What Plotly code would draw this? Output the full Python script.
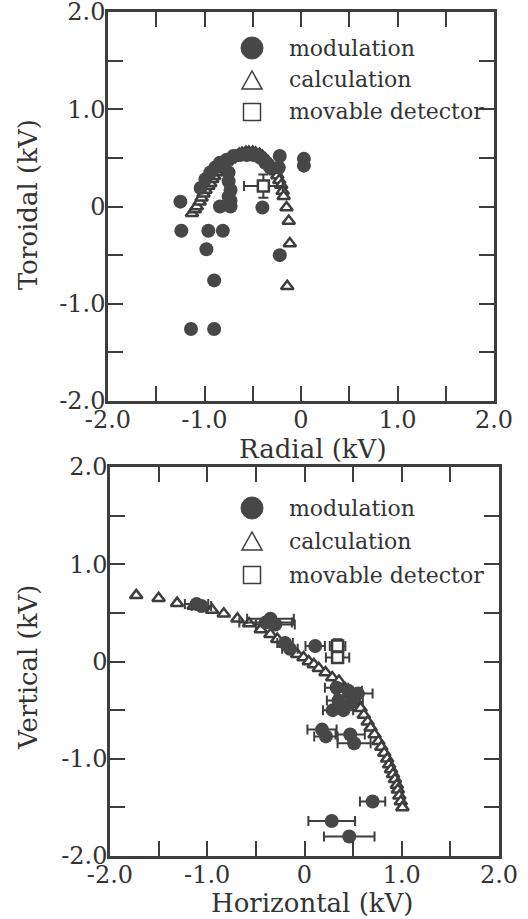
import plotly.graph_objects as go

# ---------------- data: top panel (Radial vs Toroidal) ----------------
mod_top_x = [-1.25, -1.24, -0.96, -0.81, -0.98, -0.90, -1.14, -0.90, -0.22,
             -0.22, -0.23, 0.03, 0.03, -0.40, -0.84, -0.73, -0.73,
             -1.04, -0.99, -0.94, -0.89, -0.84, -0.77, -0.70, -0.63, -0.56,
             -0.49, -0.42, -0.37, -0.32, -0.75, -0.75, -0.73, -0.75]
mod_top_y = [0.05, -0.25, -0.25, -0.25, -0.44, -0.76, -1.26, -1.26, -0.50,
             0.52, 0.40, 0.49, 0.42, -0.01, 0.00, 0.00, 0.06,
             0.19, 0.28, 0.35, 0.40, 0.45, 0.48, 0.52, 0.53, 0.53,
             0.53, 0.50, 0.45, 0.40, 0.35, 0.26, 0.17, 0.10]

calc_top_x = [-1.13, -1.10, -1.08, -1.05, -1.03, -1.01, -0.99, -0.96, -0.94,
              -0.92, -0.90, -0.87, -0.85, -0.82, -0.80, -0.77, -0.74, -0.71,
              -0.68, -0.64, -0.61, -0.57, -0.54, -0.50, -0.47, -0.43, -0.40,
              -0.37, -0.34, -0.31, -0.29, -0.265, -0.245, -0.225, -0.205,
              -0.19, -0.18, -0.15, -0.127, -0.116, -0.143]
calc_top_y = [-0.07, -0.03, 0.00, 0.05, 0.09, 0.13, 0.17, 0.21, 0.24,
              0.28, 0.31, 0.35, 0.38, 0.41, 0.43, 0.46, 0.48, 0.50,
              0.52, 0.54, 0.55, 0.56, 0.56, 0.56, 0.55, 0.54, 0.52,
              0.49, 0.46, 0.43, 0.40, 0.36, 0.32, 0.27, 0.22,
              0.16, 0.105, -0.01, -0.15, -0.38, -0.82]

mov_top_x = [-0.39]
mov_top_y = [0.21]
mov_top_ex = [0.20]
mov_top_ey = [0.12]

# ---------------- data: bottom panel (Horizontal vs Vertical) ----------------
mod_bot_x = [-1.11, -1.06, -0.40, -0.35, -0.30, -0.20, -0.15, 0.11,
             0.33, 0.45, 0.55, 0.35, 0.48, 0.29, 0.40,
             0.18, 0.22, 0.47, 0.51, 0.70, 0.28, 0.46]
mod_bot_y = [0.59, 0.57, 0.40, 0.44, 0.38, 0.19, 0.13, 0.16,
             -0.27, -0.30, -0.33, -0.40, -0.42, -0.50, -0.50,
             -0.70, -0.77, -0.75, -0.84, -1.44, -1.64, -1.80]
mod_bot_ex = [0.12, 0.10, 0.27, 0.24, 0.20, 0.08, 0.08, 0.10,
              0.12, 0.14, 0.15, 0.12, 0.12, 0.10, 0.10,
              0.15, 0.12, 0.15, 0.17, 0.13, 0.24, 0.26]

calc_bot_x = [-1.73, -1.50, -1.31, -1.14, -0.95, -0.83, -0.69, -0.57, -0.45,
              -0.35, -0.28, -0.20, -0.13, -0.075, -0.01, 0.044, 0.096, 0.147,
              0.216, 0.285, 0.354, 0.42, 0.48, 0.53, 0.577, 0.61, 0.65, 0.68,
              0.72, 0.76, 0.79, 0.82, 0.85, 0.87, 0.89, 0.91, 0.93, 0.95,
              0.96, 0.975, 0.99, 1.007]
calc_bot_y = [0.68, 0.65, 0.60, 0.57, 0.53, 0.49, 0.44, 0.39, 0.33,
              0.28, 0.23, 0.18, 0.127, 0.075, 0.04, 0.00, -0.03, -0.07,
              -0.113, -0.165, -0.20, -0.28, -0.34, -0.41, -0.48, -0.55, -0.62, -0.68,
              -0.75, -0.82, -0.88, -0.94, -1.00, -1.06, -1.11, -1.16, -1.21, -1.27,
              -1.32, -1.38, -1.44, -1.50]

mov_bot_x = [0.34, 0.34]
mov_bot_y = [0.16, 0.04]
mov_bot_ex = [0.08, 0.12]
mov_bot_ey = [0.07, 0.0]

tickvals = [-2.0, -1.5, -1.0, -0.5, 0.0, 0.5, 1.0, 1.5, 2.0]
ticktext = ["-2.0", "", "-1.0", "", "0", "", "1.0", "", "2.0"]

W, H = 528, 919
INK = "#3d3d3d"
TXT = "#333333"
FONT = "DejaVu Serif"


def px(x, y):
    return x / W, 1 - y / H


fig = go.Figure()

# top panel traces
fig.add_trace(go.Scatter(x=calc_top_x, y=calc_top_y, mode="markers", xaxis="x", yaxis="y",
                         marker=dict(symbol="triangle-up", size=11, color="white",
                                     line=dict(color=INK, width=2.5))))
fig.add_trace(go.Scatter(x=mod_top_x, y=mod_top_y, mode="markers", xaxis="x", yaxis="y",
                         marker=dict(symbol="circle", size=14, color="#474747")))
fig.add_trace(go.Scatter(x=mov_top_x, y=mov_top_y, mode="markers", xaxis="x", yaxis="y",
                         error_x=dict(type="data", array=mov_top_ex, color=INK, thickness=2, width=5),
                         error_y=dict(type="data", array=mov_top_ey, color=INK, thickness=2, width=5),
                         marker=dict(symbol="square", size=11, color="white",
                                     line=dict(color=INK, width=2.5))))

# bottom panel traces
fig.add_trace(go.Scatter(x=calc_bot_x, y=calc_bot_y, mode="markers", xaxis="x2", yaxis="y2",
                         marker=dict(symbol="triangle-up", size=11, color="white",
                                     line=dict(color=INK, width=2.5))))
fig.add_trace(go.Scatter(x=mod_bot_x, y=mod_bot_y, mode="markers", xaxis="x2", yaxis="y2",
                         error_x=dict(type="data", array=mod_bot_ex, color=INK, thickness=2, width=5),
                         marker=dict(symbol="circle", size=14, color="#474747")))
fig.add_trace(go.Scatter(x=mov_bot_x, y=mov_bot_y, mode="markers", xaxis="x2", yaxis="y2",
                         error_x=dict(type="data", array=mov_bot_ex, color=INK, thickness=2, width=5),
                         error_y=dict(type="data", array=mov_bot_ey, color=INK, thickness=2, width=5),
                         marker=dict(symbol="square", size=11, color="white",
                                     line=dict(color=INK, width=2.5))))


def ax(domain, anchor, standoff):
    return dict(domain=domain, anchor=anchor, range=[-2, 2], tickmode="array",
                tickvals=tickvals, ticktext=ticktext, ticks="inside", ticklen=15,
                tickwidth=2, tickcolor=INK, showline=True, linewidth=2.5,
                linecolor=INK, mirror="ticks", showgrid=False, zeroline=False,
                automargin=False, ticklabelstandoff=standoff,
                ticklabeloverflow="allow",
                tickfont=dict(family=FONT, size=24, color=TXT))


top_x0, top_x1, top_y0, top_y1 = 108, 494, 12, 401
bot_x0, bot_x1, bot_y0, bot_y1 = 110, 499, 467, 856

fig.update_layout(
    width=W, height=H, margin=dict(l=0, r=0, t=0, b=0, autoexpand=False),
    paper_bgcolor="white", plot_bgcolor="white", showlegend=False,
    xaxis=ax([top_x0 / W, top_x1 / W], "y", -5),
    yaxis=ax([1 - top_y1 / H, 1 - top_y0 / H], "x", -5),
    xaxis2=ax([bot_x0 / W, bot_x1 / W], "y2", -5),
    yaxis2=ax([1 - bot_y1 / H, 1 - bot_y0 / H], "x2", -5),
)

annotations = []
shapes = []


def label(text, x, y, size=26, angle=0, xanchor="center"):
    xp, yp = px(x, y)
    annotations.append(dict(text=text, x=xp, y=yp, xref="paper", yref="paper",
                            showarrow=False, textangle=angle, xanchor=xanchor,
                            yanchor="middle", font=dict(family=FONT, size=size, color=TXT)))


label("Radial (kV)", 313, 449)
label("Horizontal (kV)", 312, 903)
label("Toroidal (kV)", 28, 205, angle=-90)
label("Vertical (kV)", 28, 668, angle=-90)

legend_names = ["modulation", "calculation", "movable detector"]


def legend(rows_y, sx=252, tx=287):
    yc, yt, ys = rows_y
    # circle
    x0, y0 = px(sx - 11, yc - 11)
    x1, y1 = px(sx + 11, yc + 11)
    shapes.append(dict(type="circle", xref="paper", yref="paper", x0=x0, x1=x1,
                       y0=y1, y1=y0, fillcolor="#474747", line=dict(color="#474747", width=1)))
    # triangle
    a = px(sx - 10, yt + 9)
    b = px(sx + 10, yt + 9)
    c = px(sx, yt - 9)
    shapes.append(dict(type="path", xref="paper", yref="paper",
                       path=f"M {a[0]} {a[1]} L {b[0]} {b[1]} L {c[0]} {c[1]} Z",
                       line=dict(color=INK, width=1.5), fillcolor="rgba(0,0,0,0)"))
    # square
    x0, y0 = px(sx - 8.5, ys - 8.5)
    x1, y1 = px(sx + 8.5, ys + 8.5)
    shapes.append(dict(type="rect", xref="paper", yref="paper", x0=x0, x1=x1,
                       y0=y1, y1=y0, line=dict(color=INK, width=1.5), fillcolor="rgba(0,0,0,0)"))
    for name, yy in zip(legend_names, rows_y):
        label(name, tx, yy, size=22, xanchor="left")


legend([48, 80, 112])
legend([508, 541, 575])

fig.update_layout(annotations=annotations, shapes=shapes)
fig.write_html("out.html", config={"displayModeBar": False},
               post_script="document.body.style.margin='0';document.body.style.overflow='hidden';")
